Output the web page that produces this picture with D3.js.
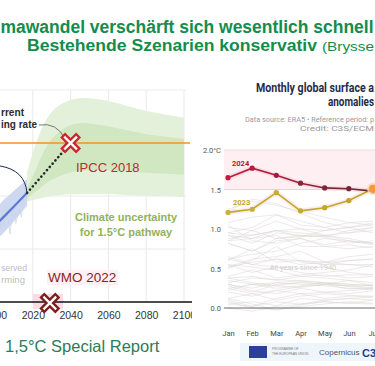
<!DOCTYPE html>
<html><head><meta charset="utf-8">
<script src="https://cdn.jsdelivr.net/npm/d3@7"></script>
<style>html,body{margin:0;padding:0;background:#fff;}svg{display:block;}</style>
</head><body><svg id="c" width="375" height="366"></svg>
<script>
// ---------- data ----------
const titleLine1 = "mawandel verschärft sich wesentlich schnell";
const titleLine2 = "Bestehende Szenarien konservativ";
const titleLine2b = "(Brysse";

// left panel (IPCC SR1.5)
const xTicksL = [2000, 2020, 2040, 2060, 2080, 2100];
const yGridL = [0.5, 1.0, 2.0];
const bandYears  = [2017, 2020, 2025, 2030, 2040, 2050, 2060, 2070, 2080, 2090, 2100];
const outerUpper = [1.22, 1.42, 1.66, 1.82, 1.92, 1.93, 1.90, 1.85, 1.80, 1.77, 1.74];
const innerUpper = [1.08, 1.18, 1.40, 1.56, 1.69, 1.69, 1.66, 1.62, 1.58, 1.56, 1.54];
const innerLower = [0.98, 1.02, 1.09, 1.16, 1.23, 1.25, 1.24, 1.23, 1.22, 1.21, 1.20];
const outerLower = [0.95, 0.96, 0.98, 1.00, 1.02, 1.02, 1.02, 1.01, 1.00, 1.00, 0.99];
const anthroYears = [2000, 2005, 2010, 2017];
const anthroMid = [0.72, 0.81, 0.90, 1.03];
const anthroLo  = [0.57, 0.66, 0.76, 0.91];
const anthroHi  = [0.88, 0.97, 1.05, 1.16];
const obsYears = [2001, 2002, 2003, 2004, 2005, 2006, 2007, 2008, 2009, 2010, 2011, 2012, 2013, 2014, 2015, 2016, 2017];
const obsT     = [0.66, 0.78, 0.70, 0.84, 0.72, 0.88, 0.76, 0.64, 0.86, 0.92, 0.74, 0.82, 0.88, 0.80, 0.98, 1.08, 0.96];
const dotYears = [2017, 2040];
const dotT = [1.03, 1.50];
const ipccX = {year: 2040, t: 1.5};
const wmoX = {year: 2029, t: 0.0};
const wmoRange = [2020, 2036];

// right panel (Copernicus)
const months = ["Jan", "Feb", "Mar", "Apr", "May", "Jun", "Jul"];
const yTicksR = [0, 0.5, 1.0, 1.5, 2.0];
const yTickLabelsR = ["0.0", "0.5", "1.0", "1.5", "2.0°C"];
const v2024 = [1.65, 1.77, 1.68, 1.58, 1.52, 1.51, 1.48];
const v2023 = [1.21, 1.25, 1.46, 1.23, 1.27, 1.36, 1.51];
const pastYears = [1940,1942,1944,1946,1949,1950,1953,1956,1958,1961,1964,1966,1968,1971,1973,1976,1979,1981,1983,1985,1987,1988,1990,1992,1995,1997,1998,2000,2002,2005,2007,2010,2012,2014,2015,2016,2017,2018,2019,2020,2021,2022];
const pastValues = [
 [0.35,0.30,0.28,0.33,0.30,0.28,0.30],[0.25,0.18,0.22,0.27,0.30,0.28,0.26],
 [0.38,0.40,0.35,0.40,0.42,0.38,0.40],[0.30,0.22,0.18,0.25,0.20,0.18,0.22],
 [0.12,0.18,0.10,0.15,0.18,0.16,0.15],[0.05,0.02,0.08,0.05,0.10,0.12,0.10],
 [0.25,0.30,0.32,0.30,0.28,0.25,0.24],[0.00,-0.04,0.02,0.05,0.08,0.06,0.05],
 [0.38,0.32,0.28,0.26,0.30,0.24,0.25],[0.22,0.30,0.25,0.28,0.32,0.27,0.25],
 [0.12,0.05,-0.03,0.02,0.05,0.08,0.06],[0.20,0.15,0.22,0.18,0.20,0.22,0.24],
 [0.10,0.02,0.12,0.18,0.12,0.15,0.14],[0.08,0.00,-0.02,0.04,0.08,0.06,0.10],
 [0.32,0.38,0.36,0.34,0.32,0.30,0.28],[0.05,0.08,0.03,0.12,0.10,0.12,0.14],
 [0.28,0.20,0.30,0.32,0.30,0.35,0.32],[0.55,0.45,0.52,0.45,0.40,0.42,0.42],
 [0.62,0.55,0.52,0.50,0.52,0.45,0.42],[0.30,0.25,0.32,0.35,0.32,0.30,0.28],
 [0.40,0.48,0.38,0.42,0.45,0.48,0.55],[0.65,0.55,0.62,0.60,0.58,0.55,0.52],
 [0.50,0.60,0.78,0.58,0.55,0.55,0.55],[0.55,0.52,0.48,0.40,0.38,0.35,0.28],
 [0.60,0.75,0.58,0.60,0.55,0.60,0.62],[0.52,0.58,0.62,0.55,0.58,0.65,0.68],
 [0.85,0.98,0.88,0.92,0.90,0.82,0.85],[0.52,0.62,0.65,0.72,0.58,0.60,0.62],
 [0.85,0.88,0.92,0.78,0.78,0.80,0.76],[0.82,0.72,0.85,0.88,0.80,0.85,0.82],
 [1.05,0.85,0.82,0.88,0.78,0.75,0.78],[0.88,0.92,0.98,0.95,0.92,0.85,0.82],
 [0.62,0.68,0.72,0.82,0.88,0.85,0.80],[0.82,0.72,0.88,0.90,0.92,0.88,0.82],
 [0.95,0.92,0.98,0.90,0.98,1.02,0.95],[1.22,1.38,1.32,1.20,1.08,1.02,1.05],
 [1.08,1.15,1.18,1.05,1.02,0.95,1.02],[0.92,0.88,0.98,1.00,0.92,0.95,0.98],
 [0.95,1.02,1.18,1.10,1.02,1.08,1.10],[1.25,1.35,1.30,1.22,1.15,1.08,1.05],
 [0.92,0.82,0.95,0.92,0.90,0.98,1.02],[1.02,0.98,1.10,1.00,0.98,1.02,1.08]
];

// ---------- drawing ----------
const svg = d3.select("#c");
const defs = svg.append("defs");
const F = "'Liberation Sans', Arial, sans-serif";
const FR = "Roboto, 'Noto Sans', sans-serif";

// title
svg.append("text").attr("x", 0.5).attr("y", 33).attr("font-family", F).attr("font-weight", "bold")
  .attr("font-size", 17.5).attr("fill", "#148c4c").attr("textLength", 373).attr("lengthAdjust", "spacingAndGlyphs")
  .text(titleLine1);
svg.append("text").attr("x", 27).attr("y", 51).attr("font-family", F).attr("font-weight", "bold")
  .attr("font-size", 16).attr("fill", "#148c4c").attr("textLength", 290).attr("lengthAdjust", "spacingAndGlyphs")
  .text(titleLine2);
svg.append("text").attr("x", 322).attr("y", 51).attr("font-family", F)
  .attr("font-size", 13.5).attr("fill", "#148c4c").attr("textLength", 52).attr("lengthAdjust", "spacingAndGlyphs")
  .text(titleLine2b);

// ===== left panel =====
const xL = d3.scaleLinear().domain([2000, 2100]).range([-5, 184]);
const yL = d3.scaleLinear().domain([0, 2]).range([302, 90]);
defs.append("clipPath").attr("id", "clipL").append("rect").attr("x", 0).attr("y", 60).attr("width", 192).attr("height", 275);
const gL = svg.append("g").attr("clip-path", "url(#clipL)");

// grid
gL.selectAll(".vg").data(xTicksL.filter(d => d > 2000)).join("line")
  .attr("x1", d => xL(d)).attr("x2", d => xL(d)).attr("y1", yL(2)).attr("y2", yL(0))
  .attr("stroke", "#e9e9e9").attr("stroke-width", 1);
gL.selectAll(".hg").data(yGridL).join("line")
  .attr("x1", 0).attr("x2", xL(2100) + 2).attr("y1", d => yL(d)).attr("y2", d => yL(d))
  .attr("stroke", "#ebebeb").attr("stroke-width", 1);

// green bands
const bandIdx = bandYears.map((y, i) => i);
const areaGen = (lo, hi) => d3.area().curve(d3.curveBasis)
  .x(i => xL(bandYears[i])).y0(i => yL(lo[i])).y1(i => yL(hi[i]));
gL.append("path").datum(bandIdx).attr("d", areaGen(outerLower, outerUpper)).attr("fill", "#e4f1da");
gL.append("path").datum(bandIdx).attr("d", areaGen(innerLower, innerUpper)).attr("fill", "#d1e7c2");

// observed monthly (grey)
gL.append("path").datum(obsYears.map((y, i) => i))
  .attr("d", d3.line().x(i => xL(obsYears[i])).y(i => yL(obsT[i])))
  .attr("fill", "none").attr("stroke", "#d8d8d8").attr("stroke-width", 0.8);

// anthropogenic blue band + line
const aIdx = anthroYears.map((y, i) => i);
gL.append("path").datum(aIdx)
  .attr("d", d3.area().x(i => xL(anthroYears[i])).y0(i => yL(anthroLo[i])).y1(i => yL(anthroHi[i])))
  .attr("fill", "#c6d2ee").attr("opacity", 0.85);
gL.append("path").datum(aIdx)
  .attr("d", d3.line().x(i => xL(anthroYears[i])).y(i => yL(anthroMid[i])))
  .attr("fill", "none").attr("stroke", "#5b7bd2").attr("stroke-width", 2.2);

// orange 1.5 line
gL.append("line").attr("x1", 0).attr("x2", xL(2100) + 6).attr("y1", yL(1.5)).attr("y2", yL(1.5))
  .attr("stroke", "#f0922a").attr("stroke-width", 1.6);

// pink highlights
gL.append("rect").attr("x", 47).attr("y", 270).attr("width", 71).attr("height", 15).attr("fill", "#fdf0f4");
gL.append("rect").attr("x", xL(wmoRange[0])).attr("y", 294).attr("width", xL(wmoRange[1]) - xL(wmoRange[0])).attr("height", 15).attr("fill", "#fbdbe6");

// dotted projection
gL.append("path").datum([0, 1])
  .attr("d", d3.line().x(i => xL(dotYears[i])).y(i => yL(dotT[i])))
  .attr("fill", "none").attr("stroke", "#1f2a2a").attr("stroke-width", 2.6)
  .attr("stroke-linecap", "round").attr("stroke-dasharray", "0.1 4.2");

// annotation arcs
gL.append("path").attr("d", "M0,166 Q25,170 27,193").attr("fill", "none").attr("stroke", "#1e2b4d").attr("stroke-width", 1);
gL.append("path").attr("d", "M39,125 Q57,122 65,139").attr("fill", "none").attr("stroke", "#555").attr("stroke-width", 0.8);

// axis
gL.append("line").attr("x1", 0).attr("x2", 192).attr("y1", yL(0)).attr("y2", yL(0)).attr("stroke", "#111").attr("stroke-width", 1.6);
const axL = gL.append("g").attr("transform", `translate(0,${yL(0)})`)
  .call(d3.axisBottom(xL).tickValues(xTicksL).tickFormat(d3.format("d")).tickSize(0).tickPadding(10));
axL.select(".domain").remove();
axL.selectAll("text").attr("font-family", F).attr("font-size", 10.5).attr("fill", "#333");

// X markers
function xMark(g, cx, cy, col) {
  const s = 5.5;
  const d = `M${cx - s},${cy - s}L${cx + s},${cy + s}M${cx - s},${cy + s}L${cx + s},${cy - s}`;
  g.append("path").attr("d", d).attr("stroke", col).attr("stroke-width", 7).attr("stroke-linecap", "square").attr("fill", "none");
  g.append("path").attr("d", d).attr("stroke", "#fff").attr("stroke-width", 2.4).attr("stroke-linecap", "square").attr("fill", "none");
}
xMark(gL, xL(ipccX.year), yL(ipccX.t), "#c8282e");
xMark(gL, xL(wmoX.year), yL(wmoX.t) + 1, "#7d1d1d");

// texts
gL.append("text").attr("x", 1).attr("y", 116).attr("font-family", F)
  .attr("font-weight", "bold").attr("font-size", 11).attr("fill", "#2b2b2b")
  .attr("textLength", 23).attr("lengthAdjust", "spacingAndGlyphs").text("rrent");
gL.append("text").attr("x", 1).attr("y", 128).attr("font-family", F)
  .attr("font-weight", "bold").attr("font-size", 11).attr("fill", "#2b2b2b")
  .attr("textLength", 36).attr("lengthAdjust", "spacingAndGlyphs").text("ing rate");
gL.append("text").attr("x", 76).attr("y", 172).attr("font-family", F).attr("font-size", 13)
  .attr("fill", "#c1272d").text("IPCC 2018");
gL.append("text").attr("x", 126).attr("y", 221).attr("text-anchor", "middle").attr("font-family", F)
  .attr("font-weight", "bold").attr("font-size", 11).attr("fill", "#8fb35a").text("Climate uncertainty");
gL.append("text").attr("x", 126).attr("y", 236).attr("text-anchor", "middle").attr("font-family", F)
  .attr("font-weight", "bold").attr("font-size", 11).attr("fill", "#8fb35a").text("for 1.5°C pathway");
gL.append("text").attr("x", 1).attr("y", 271).attr("font-family", F)
  .attr("font-size", 9.5).attr("fill", "#bdbdbd").attr("textLength", 26).attr("lengthAdjust", "spacingAndGlyphs").text("served");
gL.append("text").attr("x", 1).attr("y", 283).attr("font-family", F)
  .attr("font-size", 9.5).attr("fill", "#bdbdbd").attr("textLength", 24).attr("lengthAdjust", "spacingAndGlyphs").text("rming");
gL.append("text").attr("x", 48).attr("y", 282).attr("font-family", F).attr("font-size", 13.5)
  .attr("fill", "#8e1c1c").text("WMO 2022");

svg.append("text").attr("x", 5).attr("y", 352).attr("font-family", F).attr("font-size", 16.5)
  .attr("fill", "#2f7a57").text("1,5°C Special Report");

// ===== right panel =====
const xR = d3.scalePoint().domain(months).range([228, 373]);
const yR = d3.scaleLinear().domain([0, 2]).range([308, 150]);

svg.append("text").attr("x", 256).attr("y", 92).attr("font-family", FR).attr("font-weight", "bold")
  .attr("font-size", 12).attr("fill", "#262b47").attr("textLength", 118).attr("lengthAdjust", "spacingAndGlyphs")
  .text("Monthly global surface a");
svg.append("text").attr("x", 328).attr("y", 106).attr("font-family", FR).attr("font-weight", "bold")
  .attr("font-size", 12).attr("fill", "#262b47").attr("textLength", 46).attr("lengthAdjust", "spacingAndGlyphs")
  .text("anomalies");
svg.append("text").attr("x", 245).attr("y", 122).attr("font-family", FR)
  .attr("font-size", 7.5).attr("fill", "#9a9a9a").attr("textLength", 129).attr("lengthAdjust", "spacingAndGlyphs")
  .text("Data source: ERA5 • Reference period: p");
svg.append("text").attr("x", 300).attr("y", 131).attr("font-family", FR)
  .attr("font-size", 7.5).attr("fill", "#9a9a9a").attr("textLength", 74).attr("lengthAdjust", "spacingAndGlyphs")
  .text("Credit: C3S/ECM");

const gR = svg.append("g");
gR.append("rect").attr("x", 224).attr("y", yR(2)).attr("width", 151).attr("height", yR(1.5) - yR(2)).attr("fill", "#fdeff2");
gR.append("line").attr("x1", 224).attr("x2", 375).attr("y1", yR(2)).attr("y2", yR(2)).attr("stroke", "#eed6da").attr("stroke-width", 0.8);
gR.append("line").attr("x1", 224).attr("x2", 375).attr("y1", yR(1.5)).attr("y2", yR(1.5)).attr("stroke", "#f1cdd5").attr("stroke-width", 1);

// past years
const lineR = d3.line().x((d, i) => xR(months[i])).y(d => yR(d));
gR.selectAll(".past").data(pastValues).join("path")
  .attr("d", lineR).attr("fill", "none").attr("stroke", "#dcd6d6").attr("stroke-width", 0.6).attr("opacity", 0.9);
gR.append("text").attr("x", 303).attr("y", 270).attr("text-anchor", "middle").attr("font-family", FR)
  .attr("font-size", 7.5).attr("fill", "#cfcfcf").text("All years since 1940");

gR.append("line").attr("x1", 224).attr("x2", 375).attr("y1", yR(0)).attr("y2", yR(0)).attr("stroke", "#6a6a6a").attr("stroke-width", 1);

// y labels
gR.selectAll(".yl").data(yTicksR).join("text")
  .attr("x", 221).attr("y", d => yR(d) + 3).attr("text-anchor", "end").attr("font-family", FR)
  .attr("font-size", 7.5).attr("fill", "#555").text((d, i) => yTickLabelsR[i]);

// x labels
const axR = gR.append("g").attr("transform", `translate(0,${yR(0)})`)
  .call(d3.axisBottom(xR).tickSize(0).tickPadding(23));
axR.select(".domain").remove();
axR.selectAll("text").attr("font-family", FR).attr("font-size", 7.5).attr("fill", "#444");

// glow
gR.append("path").datum(v2024).attr("d", lineR).attr("fill", "none").attr("stroke", "#f7d3da").attr("stroke-width", 5).attr("opacity", 0.6);
gR.append("path").datum(v2023).attr("d", lineR).attr("fill", "none").attr("stroke", "#f7e0e4").attr("stroke-width", 5).attr("opacity", 0.6);

// 2023
const c2023 = d3.scaleLinear().domain([0, 6]).range(["#c8b43c", "#bfa21a"]);
gR.append("path").datum(v2023).attr("d", lineR).attr("fill", "none").attr("stroke", "#c2a923").attr("stroke-width", 1.6);
gR.selectAll(".m23").data(v2023.slice(0, 6)).join("circle")
  .attr("cx", (d, i) => xR(months[i])).attr("cy", d => yR(d)).attr("r", 2.6).attr("fill", (d, i) => c2023(i));

// 2024
const grad = defs.append("linearGradient").attr("id", "g24").attr("gradientUnits", "userSpaceOnUse")
  .attr("x1", xR("Jan")).attr("x2", xR("Jul")).attr("y1", 0).attr("y2", 0);
grad.append("stop").attr("offset", 0).attr("stop-color", "#c8173f");
grad.append("stop").attr("offset", 0.45).attr("stop-color", "#9c1f3a");
grad.append("stop").attr("offset", 1).attr("stop-color", "#5e2a31");
const c2024 = d3.scaleLinear().domain([0, 3, 6]).range(["#c8173f", "#8e2238", "#5e2a31"]);
gR.append("path").datum(v2024).attr("d", lineR).attr("fill", "none").attr("stroke", "url(#g24)").attr("stroke-width", 1.6);
gR.selectAll(".m24").data(v2024).join("circle")
  .attr("cx", (d, i) => xR(months[i])).attr("cy", d => yR(d)).attr("r", 2.6).attr("fill", (d, i) => c2024(i));
// July 2023 highlight marker
gR.append("circle").attr("cx", xR("Jul")).attr("cy", yR(v2023[6])).attr("r", 6).attr("fill", "#fbd7b4").attr("opacity", 0.8);
gR.append("circle").attr("cx", xR("Jul")).attr("cy", yR(v2023[6])).attr("r", 4).attr("fill", "#f29a3a");

gR.append("text").attr("x", 232).attr("y", 166).attr("font-family", FR).attr("font-weight", "bold")
  .attr("font-size", 7.5).attr("fill", "#b3173b").text("2024");
gR.append("text").attr("x", 233).attr("y", 205).attr("font-family", FR).attr("font-weight", "bold")
  .attr("font-size", 7.5).attr("fill", "#c2a923").text("2023");

// logos strip
const gLogo = svg.append("g");
gLogo.append("rect").attr("x", 240).attr("y", 343).attr("width", 135).attr("height", 18).attr("fill", "#eef6fb");
gLogo.append("rect").attr("x", 249).attr("y", 346).attr("width", 18).attr("height", 12).attr("fill", "#2c3f98");
gLogo.append("text").attr("x", 272).attr("y", 350).attr("font-family", F).attr("font-size", 3.2).attr("fill", "#777").text("PROGRAMME OF");
gLogo.append("text").attr("x", 272).attr("y", 355).attr("font-family", F).attr("font-size", 3.2).attr("fill", "#777").text("THE EUROPEAN UNION");
gLogo.append("text").attr("x", 319).attr("y", 355).attr("font-family", F).attr("font-size", 8).attr("fill", "#4a5568").text("Copernicus");
gLogo.append("text").attr("x", 362).attr("y", 357).attr("font-family", F).attr("font-weight", "bold").attr("font-size", 11).attr("fill", "#1f3f8a").text("C3");
</script></body></html>
